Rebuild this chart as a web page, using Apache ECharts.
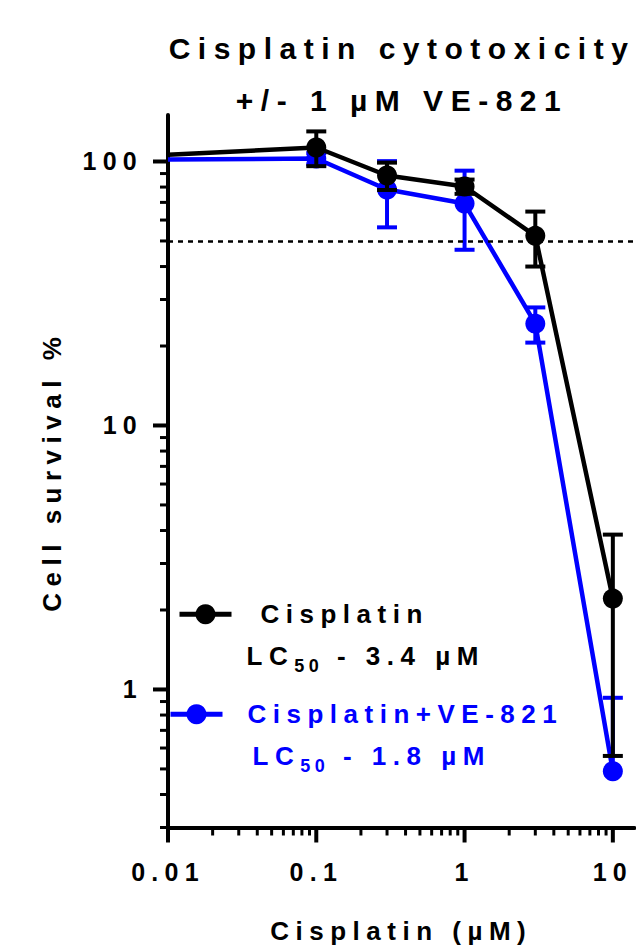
<!DOCTYPE html>
<html>
<head>
<meta charset="utf-8">
<style>
  html, body { margin: 0; padding: 0; background: #fff; }
  #chart { width: 636px; height: 952px; }
  /* GraphPad style: widely spaced letters */
  #chart svg text { letter-spacing: 0.25em; }
</style>
<script src="https://cdn.jsdelivr.net/npm/echarts@6/dist/echarts.min.js"></script>
</head>
<body>
<div id="chart"></div>
<script>
  // concentrations (uM)
  const concentrations = [0.01, 0.1, 0.3, 1, 3, 10]
  // Cisplatin alone
  const cisMean = [106, 113, 88.5, 80.4, 52.3, 2.21]
  const cisSd = [null, 17, 10.5, 5, 12.3, 1.65]
  // Cisplatin + VE-821
  const veMean = [101.8, 102.6, 78.3, 69.3, 24.3, 0.49]
  const veSd = [null, 5, 22, 23, 3.7, 0.44]
  const lc50 = ['3.4', '1.8']
  const cutoff = 50
  const xTickLabels = ['0.01', '0.1', '1', '10']
  const yTickLabels = ['1', '10', '100']

  const FONT = 'Liberation Sans'
  const SPACING = 0.25
  const Y_MIN = 0.3
  const Y_MAX = 150
  const X_MIN = 0.01
  const X_MAX = 14

  // make ECharts layout aware of the letter spacing
  const measureCtx = document.createElement('canvas').getContext('2d')
  echarts.setPlatformAPI({
    measureText(text, font) {
      measureCtx.font = font || '12px sans-serif'
      const str = text == null ? '' : String(text)
      const m = /(\d+(?:\.\d+)?)px/.exec(font || '')
      const size = m ? parseFloat(m[1]) : 12
      return { width: measureCtx.measureText(str).width + str.length * size * SPACING }
    }
  })

  function errData(mean, sd) {
    const out = []
    concentrations.forEach((c, i) => {
      if (sd[i] == null) return
      out.push([c, mean[i], mean[i] - sd[i], mean[i] + sd[i]])
    })
    return out
  }

  function lineData(mean) {
    return concentrations.map((c, i) => i === 0 ? { value: [c, mean[i]], symbol: 'none' } : [c, mean[i]])
  }

  function errRenderer(color) {
    return function(params, api) {
      const x = api.value(0)
      const mid = api.coord([x, api.value(1)])
      const top = api.coord([x, api.value(3)])
      const lo = api.value(2)
      const hasLow = lo > Y_MIN
      const bot = hasLow ? api.coord([x, lo]) : mid
      const st = { stroke: color, lineWidth: 4 }
      const children = [
        { type: 'line', shape: { x1: mid[0], y1: top[1], x2: mid[0], y2: bot[1] }, style: st },
        { type: 'line', shape: { x1: mid[0] - 10, y1: top[1], x2: mid[0] + 10, y2: top[1] }, style: st }
      ]
      if (hasLow) {
        children.push({ type: 'line', shape: { x1: mid[0] - 10, y1: bot[1], x2: mid[0] + 10, y2: bot[1] }, style: st })
      }
      return { type: 'group', children }
    }
  }

  // log ticks (majors at decades, minors at 2..9)
  const xTicks = []
  const yTicks = []
  ;[0.01, 0.1, 1, 10].forEach(d => {
    xTicks.push([d, 1, 1])
    for (let k = 2; k < 10; k++) if (d * k < X_MAX) xTicks.push([d * k, 1, 0])
  })
  ;[0.1, 1, 10, 100].forEach(d => {
    if (d >= Y_MIN) yTicks.push([1, d, 1])
    for (let k = 2; k < 10; k++) if (d * k > Y_MIN && d * k < Y_MAX) yTicks.push([1, d * k, 0])
  })

  function legendRich(color, pad1, pad2) {
    const base = { lineHeight: 42, fontSize: 26, fontWeight: 'bold', fontFamily: FONT, color }
    return {
      a: Object.assign({ padding: [0, 0, 0, pad1] }, base),
      l: Object.assign({ padding: [0, 0, 0, pad2] }, base),
      b: base,
      s: { lineHeight: 20, fontSize: 18, fontWeight: 'bold', fontFamily: FONT, color, verticalAlign: 'bottom' }
    }
  }

  const chart = echarts.init(document.getElementById('chart'), null, { renderer: 'svg' })
  chart.setOption({
    backgroundColor: '#fff',
    animation: false,
    title: {
      text: 'Cisplatin cytotoxicity\n+/- 1 µM VE-821',
      left: 402,
      top: 22,
      textAlign: 'center',
      padding: 0,
      textStyle: { fontFamily: FONT, fontSize: 30, fontWeight: 'bold', color: '#000', lineHeight: 52 }
    },
    grid: { left: 168, right: 0, top: 115, bottom: 124, containLabel: false },
    legend: [{
      data: ['Cisplatin'],
      orient: 'vertical',
      left: 177,
      top: 598,
      padding: 0,
      itemWidth: 52,
      itemHeight: 25,
      selectedMode: false,
      lineStyle: { width: 5 },
      textStyle: { color: '#000', padding: [42, 0, 0, 0], rich: legendRich('#000', 24, 10) },
      formatter: () => '{a|Cisplatin}\n{l|LC}{s|50}{b| - ' + lc50[0] + ' µM}'
    }, {
      data: ['Cisplatin+VE-821'],
      orient: 'vertical',
      left: 168,
      top: 698,
      padding: 0,
      itemWidth: 52,
      itemHeight: 25,
      selectedMode: false,
      lineStyle: { width: 5 },
      textStyle: { color: '#0000ff', padding: [42, 0, 0, 0], rich: legendRich('#0000ff', 20, 25) },
      formatter: () => '{a|Cisplatin+VE-821}\n{l|LC}{s|50}{b| - ' + lc50[1] + ' µM}'
    }],
    xAxis: {
      type: 'log',
      logBase: 10,
      min: X_MIN,
      max: X_MAX,
      name: 'Cisplatin (µM)',
      nameLocation: 'middle',
      nameGap: 87,
      nameTextStyle: { fontFamily: FONT, fontSize: 26, fontWeight: 'bold', color: '#000' },
      axisLine: { lineStyle: { color: '#000', width: 4 } },
      axisTick: { show: false },
      splitLine: { show: false },
      axisLabel: {
        margin: 29,
        showMaxLabel: false,
        fontFamily: FONT,
        fontSize: 25,
        fontWeight: 'bold',
        color: '#000',
        formatter: v => {
          const i = Math.round(Math.log10(v)) + 2
          return xTickLabels[i] || ''
        }
      }
    },
    yAxis: {
      type: 'log',
      logBase: 10,
      min: Y_MIN,
      max: Y_MAX,
      name: 'Cell survival %',
      nameLocation: 'middle',
      nameGap: 100,
      nameTextStyle: { fontFamily: FONT, fontSize: 26, fontWeight: 'bold', color: '#000' },
      axisLine: { lineStyle: { color: '#000', width: 4 } },
      axisTick: { show: false },
      splitLine: { show: false },
      axisLabel: {
        margin: 25,
        showMinLabel: false,
        showMaxLabel: false,
        fontFamily: FONT,
        fontSize: 25,
        fontWeight: 'bold',
        color: '#000',
        formatter: v => {
          const i = Math.round(Math.log10(v))
          return yTickLabels[i] || ''
        }
      }
    },
    series: [{
      name: 'xticks',
      type: 'custom',
      silent: true,
      clip: false,
      z: 1,
      data: xTicks,
      renderItem(params, api) {
        const cs = params.coordSys
        const x = api.coord([api.value(0), 1])[0]
        const major = api.value(2) === 1
        const y0 = cs.y + cs.height
        return { type: 'line', shape: { x1: x, y1: y0, x2: x, y2: y0 + (major ? 15 : 8) }, style: { stroke: '#000', lineWidth: major ? 4 : 3 } }
      }
    }, {
      name: 'yticks',
      type: 'custom',
      silent: true,
      clip: false,
      z: 1,
      data: yTicks,
      renderItem(params, api) {
        const cs = params.coordSys
        const y = api.coord([1, api.value(1)])[1]
        const major = api.value(2) === 1
        return { type: 'line', shape: { x1: cs.x - (major ? 15 : 8), y1: y, x2: cs.x, y2: y }, style: { stroke: '#000', lineWidth: major ? 4 : 3 } }
      }
    }, {
      name: 'veErr',
      type: 'custom',
      silent: true,
      z: 2,
      data: errData(veMean, veSd),
      renderItem: errRenderer('#0000ff')
    }, {
      name: 'Cisplatin+VE-821',
      type: 'line',
      z: 3,
      symbol: 'circle',
      symbolSize: 20,
      data: lineData(veMean),
      lineStyle: { color: '#0000ff', width: 4.5 },
      itemStyle: { color: '#0000ff' }
    }, {
      name: 'cisErr',
      type: 'custom',
      silent: true,
      z: 4,
      data: errData(cisMean, cisSd),
      renderItem: errRenderer('#000')
    }, {
      name: 'Cisplatin',
      type: 'line',
      z: 5,
      symbol: 'circle',
      symbolSize: 20,
      data: lineData(cisMean),
      lineStyle: { color: '#000', width: 4.5 },
      itemStyle: { color: '#000' },
      markLine: {
        silent: true,
        symbol: 'none',
        label: { show: false },
        lineStyle: { color: '#000', width: 2.5, type: [5, 5] },
        data: [{ yAxis: cutoff }]
      }
    }]
  })
</script>
</body>
</html>
